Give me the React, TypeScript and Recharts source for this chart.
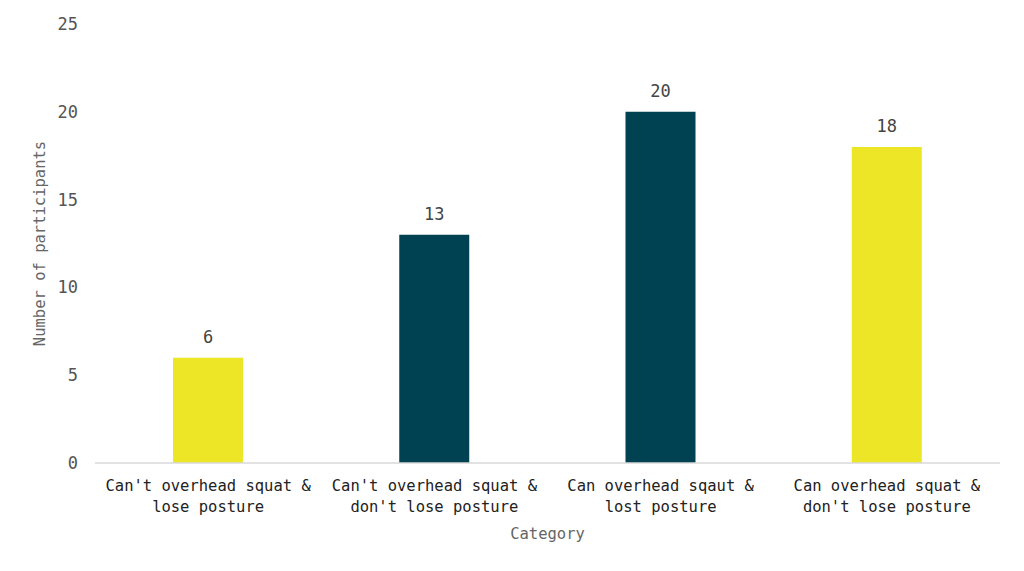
import { BarChart, Bar, XAxis, YAxis, Cell, LabelList } from "recharts";

const categories = [
  "Can't overhead squat & lose posture",
  "Can't overhead squat & don't lose posture",
  "Can overhead sqaut & lost posture",
  "Can overhead squat & don't lose posture",
];
const participants = [6, 13, 20, 18];
const barColors = ["#EDE626", "#004152", "#004152", "#EDE626"];
const yTicks = [0, 5, 10, 15, 20, 25];

const data = categories.map((name, i) => ({ name, value: participants[i], color: barColors[i] }));

const FONT = "'DejaVu Sans Mono', 'Liberation Mono', monospace";

// eslint-disable-next-line @typescript-eslint/no-explicit-any
function CategoryTick({ x, y, payload }: any) {
  const text: string = payload.value;
  const cut = text.indexOf("&") + 1;
  const lines = [text.slice(0, cut), text.slice(cut).trim()];
  return (
    <text x={x} y={y} textAnchor="middle" fill="#222" fontSize={15.5} fontFamily={FONT}>
      {lines.map((l, i) => (
        <tspan key={i} x={x} dy={i === 0 ? 20 : 21}>
          {l}
        </tspan>
      ))}
    </text>
  );
}

export default function App() {
  return (
    <div style={{ position: "absolute", left: 0, top: 0, width: 1024, height: 571, background: "#fff" }}>
      <BarChart
        width={1024}
        height={571}
        data={data}
        margin={{ top: 24, right: 24, left: 0, bottom: 32 }}
        barSize={70}
      >
        <XAxis
          dataKey="name"
          interval={0}
          tickLine={false}
          axisLine={{ stroke: "#d9d9d9", strokeWidth: 1.5 }}
          tick={<CategoryTick />}
          height={76}
          label={{
            value: "Category",
            position: "insideBottom",
            offset: 0,
            fill: "#666",
            fontSize: 15.5,
            fontFamily: FONT,
          }}
        />
        <YAxis
          width={95}
          domain={[0, 25]}
          ticks={yTicks}
          axisLine={false}
          tickLine={false}
          tickSize={0}
          tickMargin={17}
          tick={{ fill: "#555", fontSize: 17, fontFamily: FONT }}
          label={{
            value: "Number of participants",
            angle: -90,
            position: "insideLeft",
            offset: 39,
            fill: "#666",
            fontSize: 15.5,
            fontFamily: FONT,
            style: { textAnchor: "middle" },
          }}
        />
        <Bar dataKey="value" isAnimationActive={false}>
          {data.map((d) => (
            <Cell key={d.name} fill={d.color} />
          ))}
          <LabelList
            dataKey="value"
            position="top"
            offset={15}
            fill="#444"
            fontSize={17}
            fontFamily={FONT}
          />
        </Bar>
      </BarChart>
    </div>
  );
}
